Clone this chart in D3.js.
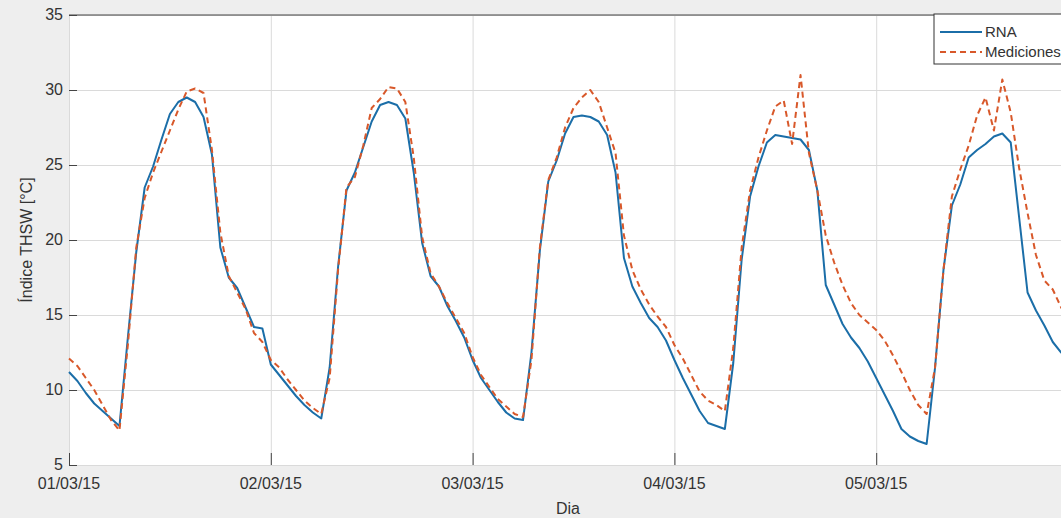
<!DOCTYPE html>
<html lang="en">
<head>
	<title>Indice THSW</title>
	<script src="https://d3js.org/d3.v7.min.js"></script>
	<style>
		body { margin: 0; background: #eeeeee; overflow: hidden; }
		text { font-family: "Liberation Sans", Arial, sans-serif; fill: #333; }
	</style>
</head>
<body>
	<script>

	var width = 1061,
	    height = 518;

	// hourly values starting 01/03/15 00:00
	var rna = [
		11.2, 10.6, 9.8, 9.1, 8.6, 8.1, 7.6, 13.5, 19.2, 23.5, 24.9, 26.7,
		28.4, 29.2, 29.5, 29.2, 28.2, 25.7, 19.5, 17.5, 16.8, 15.5, 14.2, 14.1,
		11.7, 11.0, 10.3, 9.6, 9.0, 8.5, 8.1, 11.5, 18.2, 23.3, 24.5, 26.2,
		27.9, 29.0, 29.2, 29.0, 28.1, 24.5, 19.8, 17.6, 16.9, 15.6, 14.6, 13.5,
		12.0, 10.8, 10.0, 9.2, 8.5, 8.1, 8.0, 12.5, 19.3, 23.9, 25.3, 27.1,
		28.2, 28.3, 28.2, 27.9, 27.0, 24.5, 18.8, 16.9, 15.8, 14.8, 14.2, 13.3,
		12.0, 10.8, 9.7, 8.6, 7.8, 7.6, 7.4, 11.8, 18.7, 22.9, 24.9, 26.5,
		27.0, 26.9, 26.8, 26.7, 26.0, 23.3, 17.0, 15.7, 14.4, 13.5, 12.8, 11.9,
		10.8, 9.7, 8.6, 7.4, 6.9, 6.6, 6.4, 11.5, 18.0, 22.3, 23.7, 25.5,
		26.0, 26.4, 26.9, 27.1, 26.5, 21.5, 16.5, 15.3, 14.3, 13.2, 12.5, 12.0,
		11.5
	];

	var mediciones = [
		12.1, 11.6, 10.8, 10.0, 9.0, 8.0, 7.3, 13.0, 19.5, 22.8, 24.5, 25.9,
		27.3, 28.7, 29.9, 30.1, 29.8, 26.0, 20.5, 17.6, 16.5, 15.4, 13.8, 13.2,
		12.0, 11.5, 10.7, 10.0, 9.3, 8.8, 8.4, 10.8, 18.0, 23.5, 24.2, 26.3,
		28.8, 29.4, 30.2, 30.1, 29.2, 25.5, 20.2, 17.8, 16.9, 15.8, 14.8, 13.8,
		12.2, 11.0, 10.2, 9.4, 8.9, 8.4, 8.2, 12.0, 19.5, 24.0, 25.5, 27.5,
		28.8, 29.5, 30.0, 29.2, 27.5, 25.8, 20.3, 18.0, 16.7, 15.7, 14.9, 14.2,
		13.0, 12.1, 11.0, 9.9, 9.3, 9.0, 8.6, 12.8, 19.5, 23.3, 25.5, 27.3,
		28.9, 29.3, 26.4, 31.0, 25.8, 23.3, 20.3, 18.5, 17.0, 15.8, 15.0, 14.5,
		14.0, 13.3, 12.3, 11.2, 10.0, 9.0, 8.4, 11.5, 18.0, 22.9, 24.7, 26.3,
		28.3, 29.5, 27.3, 30.7, 28.5, 24.8, 21.8, 19.0, 17.3, 16.7, 15.5, 14.5,
		13.8
	];

	var seriesNames = ["RNA", "Mediciones"];
	var yTicks = [5, 10, 15, 20, 25, 30, 35];
	var start = new Date(2015, 2, 1, 0, 0);
	var dayTicks = d3.timeDay.range(new Date(2015, 2, 1), new Date(2015, 2, 6));

	var margin = {top: 15, left: 69, bottom: 465};
	var plotRight = 1078;

	var svg = d3.select("body").append("svg")
	    .attr("width", width)
	    .attr("height", height);

	var x = d3.scaleTime()
	    .domain([start, new Date(2015, 2, 6)])
	    .range([margin.left, plotRight]);

	var y = d3.scaleLinear()
	    .domain([5, 35])
	    .range([margin.bottom, margin.top]);

	var time = function(i) { return d3.timeHour.offset(start, i); };

	svg.append("rect")
	    .attr("x", margin.left)
	    .attr("y", margin.top)
	    .attr("width", plotRight - margin.left)
	    .attr("height", margin.bottom - margin.top)
	    .attr("fill", "#fff");

	// grid
	svg.append("g")
	    .attr("transform", "translate(0," + margin.bottom + ")")
	    .call(d3.axisBottom(x).tickValues(dayTicks).tickSize(-(margin.bottom - margin.top)).tickFormat(""))
	    .call(function(g) {
	    	g.select(".domain").remove();
	    	g.selectAll("line").attr("stroke", "#dadada");
	    });

	svg.append("g")
	    .attr("transform", "translate(" + margin.left + ",0)")
	    .call(d3.axisLeft(y).tickValues(yTicks).tickSize(-(plotRight - margin.left)).tickFormat(""))
	    .call(function(g) {
	    	g.select(".domain").remove();
	    	g.selectAll("line").attr("stroke", "#dadada");
	    });

	// inward ticks + labels
	svg.append("g")
	    .attr("transform", "translate(" + margin.left + ",0)")
	    .call(d3.axisRight(y).tickValues(yTicks).tickSize(8).tickFormat(""))
	    .call(function(g) {
	    	g.select(".domain").remove();
	    	g.selectAll("line").attr("stroke", "#444");
	    });

	svg.append("g")
	    .selectAll("text")
	    .data(yTicks)
	    .enter().append("text")
	    .attr("x", 63)
	    .attr("y", function(d) { return y(d) + 5; })
	    .attr("text-anchor", "end")
	    .attr("font-size", 16)
	    .text(function(d) { return d; });

	svg.append("g")
	    .attr("transform", "translate(0," + margin.bottom + ")")
	    .call(d3.axisTop(x).tickValues(dayTicks).tickSize(12).tickFormat(""))
	    .call(function(g) {
	    	g.select(".domain").remove();
	    	g.selectAll("line").attr("stroke", "#444");
	    });

	svg.append("g")
	    .selectAll("text")
	    .data(dayTicks)
	    .enter().append("text")
	    .attr("x", function(d) { return x(d); })
	    .attr("y", 489)
	    .attr("text-anchor", "middle")
	    .attr("font-size", 16)
	    .text(d3.timeFormat("%d/%m/%y"));

	svg.append("line")
	    .attr("x1", margin.left)
	    .attr("x2", plotRight)
	    .attr("y1", margin.top)
	    .attr("y2", margin.top)
	    .attr("stroke", "#444");

	svg.append("text")
	    .attr("x", 568)
	    .attr("y", 514)
	    .attr("text-anchor", "middle")
	    .attr("font-size", 16)
	    .text("Dia");

	svg.append("text")
	    .attr("transform", "translate(32,240) rotate(-90)")
	    .attr("text-anchor", "middle")
	    .attr("font-size", 16)
	    .text("Índice THSW [°C]");

	// curves
	var line = d3.line()
	    .x(function(d, i) { return x(time(i)); })
	    .y(function(d) { return y(d); });

	var colors = ["#1b6ea8", "#d8582a"];
	var dashes = [null, "6,4"];

	[rna, mediciones].forEach(function(s, k) {
		svg.append("path")
		    .datum(s)
		    .attr("d", line)
		    .attr("fill", "none")
		    .attr("stroke", colors[k])
		    .attr("stroke-width", 2)
		    .attr("stroke-dasharray", dashes[k])
		    .attr("stroke-linejoin", "round");
	});

	// legend (cut at right edge like the original)
	var lg = svg.append("g").attr("transform", "translate(934,14)");

	lg.append("rect")
	    .attr("width", 150)
	    .attr("height", 50)
	    .attr("fill", "#fff")
	    .attr("stroke", "#333");

	lg.selectAll("g")
	    .data(seriesNames)
	    .enter().append("g")
	    .attr("transform", function(d, i) { return "translate(0," + (18 + i * 20) + ")"; })
	    .each(function(d, i) {
	    	var g = d3.select(this);
	    	g.append("line")
	    	    .attr("x1", 6).attr("x2", 48)
	    	    .attr("stroke", colors[i])
	    	    .attr("stroke-width", 2)
	    	    .attr("stroke-dasharray", dashes[i]);
	    	g.append("text")
	    	    .attr("x", 51)
	    	    .attr("y", 5)
	    	    .attr("font-size", 15)
	    	    .text(d);
	    });

	</script>
</body>
</html>
